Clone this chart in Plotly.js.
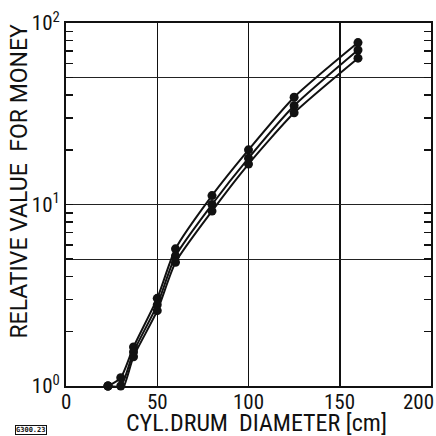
<!DOCTYPE html>
<html><head><meta charset="utf-8">
<script src="https://cdn.plot.ly/plotly-3.0.1.min.js"></script>
<style>html,body{margin:0;padding:0;background:#fff}</style>
</head><body><div id="chart" style="width:436px;height:436px"></div>
<script>
const diameter = [23, 30, 37, 50, 60, 80, 100, 125, 160];
const valueUpper = [1.0, 1.11, 1.64, 3.04, 5.7, 11.2, 20.0, 39.0, 78.0];
const valueMiddle = [1.0, 1.0, 1.54, 2.8, 5.2, 10.0, 18.0, 35.0, 71.0];
const valueLower = [1.0, 0.92, 1.45, 2.6, 4.8, 9.2, 16.7, 32.0, 64.0];
const xTickVals = [0, 50, 100, 150, 200];
const xTickText = ['0', '50', '100', '150', '200'];
const yTickVals = [1, 5, 10, 50, 100];
const yTickText = ['10<sup>0</sup>', ' ', '10<sup>1</sup>', ' ', '10<sup>2</sup>'];
const yMinorVals = [2, 3, 4, 6, 7, 8, 9, 20, 30, 40, 60, 70, 80, 90];
const xTitle = 'CYL.DRUM  DIAMETER [cm]';
const yTitle = 'RELATIVE VALUE  FOR MONEY';
const figCode = 'G300.23';

const COND = 'Roboto Condensed, DejaVu Sans Condensed, sans-serif';
const REG = 'Roboto, Liberation Sans, sans-serif';

function series(y) {
  return {
    x: diameter, y: y, type: 'scatter', mode: 'lines+markers',
    line: {color: '#111', width: 2, shape: 'spline', smoothing: 0.6},
    marker: {color: '#111', size: 9},
    cliponaxis: false, showlegend: false, hoverinfo: 'skip'
  };
}

const traces = [series(valueUpper), series(valueMiddle), series(valueLower)];

// x tick labels placed at the axis tick values through the x scale
const xLabelAnnotations = xTickVals.map((v, i) => {
  const last = i === xTickVals.length - 1;
  return {
    text: xTickText[i], xref: 'x', yref: 'paper', x: v, y: -0.043,
    xanchor: last ? 'right' : 'center', yanchor: 'middle', xshift: last ? 5 : 0,
    showarrow: false, font: {family: COND, size: 21, color: '#111'}
  };
});

const layout = {
  width: 436, height: 436,
  margin: {l: 66, r: 5, t: 23, b: 50},
  paper_bgcolor: '#fff', plot_bgcolor: '#fff',
  font: {family: COND, color: '#111', size: 20},
  xaxis: {
    range: [0, 200], tickmode: 'array', tickvals: xTickVals, showticklabels: false,
    showgrid: true, gridcolor: '#111', gridwidth: 1.5,
    zeroline: false, showline: true, linecolor: '#111', linewidth: 2, mirror: true,
    ticks: ''
  },
  yaxis: {
    type: 'log', range: [0, 2], tickmode: 'array', tickvals: yTickVals, ticktext: yTickText,
    showgrid: true, gridcolor: '#222', gridwidth: 1.2,
    zeroline: false, showline: true, linecolor: '#111', linewidth: 2, mirror: 'ticks',
    ticks: 'inside', ticklen: 7, tickwidth: 1.5, tickcolor: '#111',
    minor: {tickmode: 'array', tickvals: yMinorVals, ticks: 'inside', ticklen: 7, tickwidth: 1.5, tickcolor: '#111', showgrid: false},
    tickfont: {family: COND, size: 21, color: '#111'}
  },
  annotations: xLabelAnnotations.concat([
    {text: xTitle, xref: 'paper', yref: 'paper', x: 0.522, y: -0.103, xanchor: 'center', yanchor: 'middle',
     showarrow: false, font: {family: COND, size: 24, color: '#111'}},
    {text: yTitle, xref: 'paper', yref: 'paper', x: -0.127, y: 0.565, xanchor: 'center', yanchor: 'middle', textangle: -90,
     showarrow: false, font: {family: REG, size: 23, color: '#111'}},
    {text: '<b>' + figCode + '</b>', xref: 'paper', yref: 'paper', x: -0.0959, y: -0.12, xanchor: 'center', yanchor: 'middle',
     showarrow: false, font: {family: 'DejaVu Sans Mono, monospace', size: 7, color: '#111'},
     bordercolor: '#111', borderwidth: 1, borderpad: 0}
  ])
};

Plotly.newPlot('chart', traces, layout, {staticPlot: true, displayModeBar: false});
</script></body></html>
